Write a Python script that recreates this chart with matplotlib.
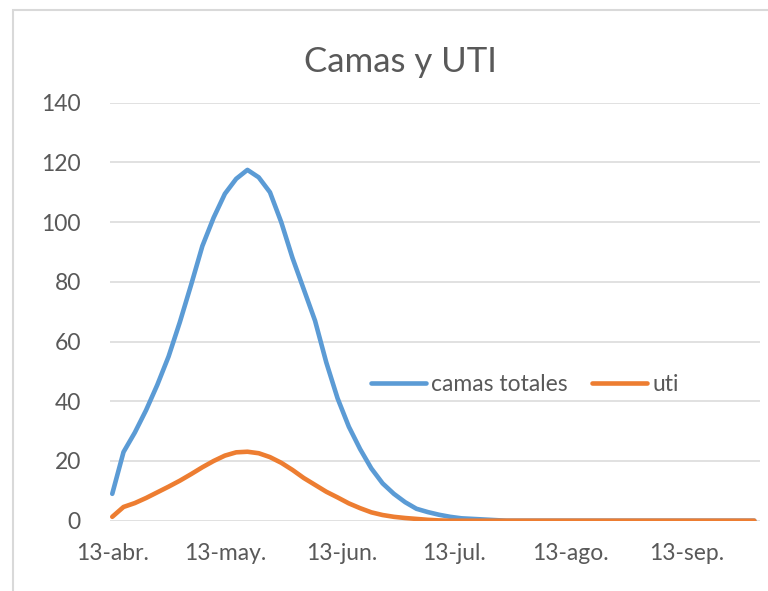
import matplotlib
matplotlib.use("Agg")
import matplotlib.pyplot as plt
import matplotlib.dates as mdates
from matplotlib.patches import Rectangle
import datetime as dt

# Data: values every 3 days starting 13-abr.
start_date = dt.date(2020, 4, 13)
step_days = 3
camas_totales = [9, 23, 29.5, 37, 45.5, 55, 66.5, 79, 92, 101.5,
                 109.5, 114.5, 117.5, 115, 110, 100, 88, 77.5, 67, 53,
                 41, 31.5, 24, 17.5, 12.5, 9, 6.2, 4, 2.9, 2,
                 1.3, 0.8, 0.6, 0.4, 0.2, 0, 0, 0, 0, 0,
                 0, 0, 0, 0, 0, 0, 0, 0, 0, 0,
                 0, 0, 0, 0, 0, 0, 0, 0]
uti = [1.3, 4.6, 5.9, 7.6, 9.5, 11.4, 13.4, 15.6, 17.9, 20,
       21.8, 22.9, 23.1, 22.6, 21.3, 19.4, 17, 14.3, 12, 9.7,
       7.8, 5.8, 4.2, 2.8, 1.9, 1.3, 0.9, 0.6, 0.3, 0.1,
       0, 0, 0, 0, 0, 0, 0, 0, 0, 0,
       0, 0, 0, 0, 0, 0, 0, 0, 0, 0,
       0, 0, 0, 0, 0, 0, 0, 0]
tick_dates = [dt.date(2020, 4, 13), dt.date(2020, 5, 13), dt.date(2020, 6, 13),
              dt.date(2020, 7, 13), dt.date(2020, 8, 13), dt.date(2020, 9, 13)]
tick_labels = ["13-abr.", "13-may.", "13-jun.", "13-jul.", "13-ago.", "13-sep."]
y_ticks = [0, 20, 40, 60, 80, 100, 120, 140]

dates = [start_date + dt.timedelta(days=step_days * i) for i in range(len(camas_totales))]

plt.rcParams['font.family'] = ['Lato', 'DejaVu Sans']
TXT = '#595959'

fig = plt.figure(figsize=(7.68, 5.91), dpi=100)
fig.patch.set_facecolor('white')
# chart border (partly cropped in reference)
fig.patches.append(Rectangle((13/768, -0.05), 1.2, 1 - 10/591 + 0.05,
                             transform=fig.transFigure, fill=False,
                             edgecolor='#D9D9D9', linewidth=1.5))

ax = fig.add_axes([110/768, 1 - 520.7/591, 650/768, 418/591])
ax.plot(dates, camas_totales, color='#5B9BD5', lw=3.3, solid_capstyle='round',
        solid_joinstyle='round', label='camas totales', zorder=3)
ax.plot(dates, uti, color='#ED7D31', lw=3.3, solid_capstyle='round',
        solid_joinstyle='round', label='uti', zorder=4)

x0 = mdates.date2num(start_date)
ax.set_xlim(x0 - 0.6, x0 + 172.5)
ax.set_ylim(0, 140)
ax.set_yticks(y_ticks)
ax.set_xticks([mdates.date2num(d) for d in tick_dates])
ax.set_xticklabels(tick_labels)
ax.tick_params(length=0, labelsize=16.5, labelcolor=TXT)
ax.tick_params(axis='x', pad=16)
ax.tick_params(axis='y', pad=21)
ax.grid(axis='y', color='#D9D9D9', lw=1.1)
ax.set_axisbelow(True)
for s in ax.spines.values():
    s.set_visible(False)

leg = ax.legend(loc='center', bbox_to_anchor=(0.638, 0.325), ncol=2, frameon=False,
                fontsize=16.5, handlelength=2.4, handletextpad=0.2, columnspacing=1.1,
                labelcolor=TXT)

fig.text(400/768, 1 - 62/591, 'Camas y UTI', ha='center', va='center',
         fontsize=25, color=TXT)

fig.savefig('out.png', dpi=100)
